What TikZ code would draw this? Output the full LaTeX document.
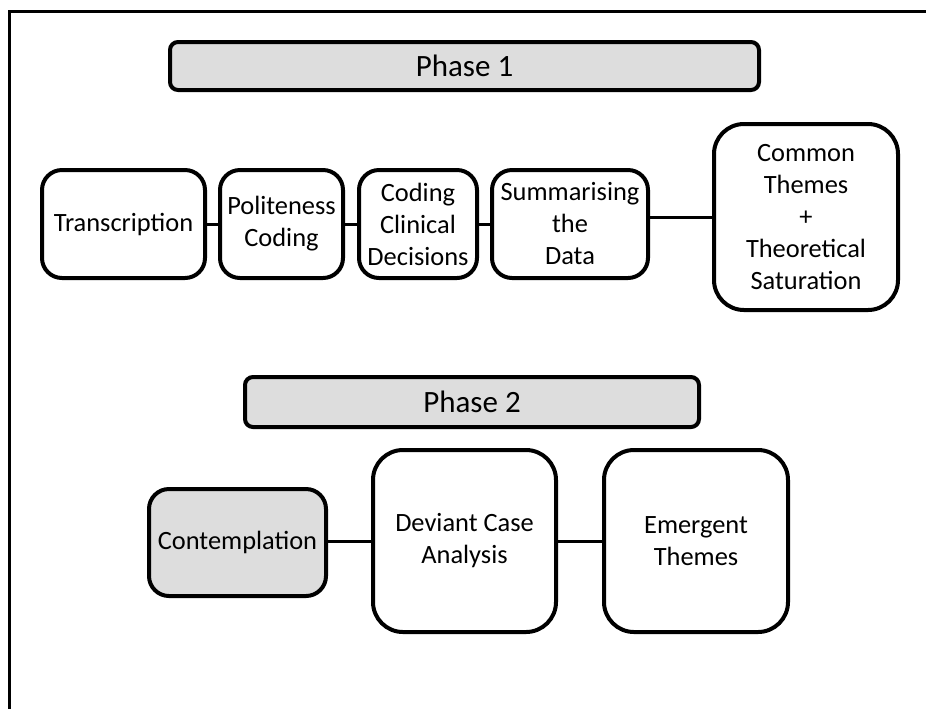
\documentclass[tikz,border=0pt]{standalone}
\usepackage{fontspec}
\setmainfont{Carlito}
\usepackage{tikz}
\usepackage{xcolor}
\definecolor{phasegray}{HTML}{DDDDDD}

\begin{document}
\begin{tikzpicture}[x=0.5pt, y=-0.5pt,
  stage/.style={draw=black, line width=2pt, rounded corners=10pt, align=center,
    inner xsep=1pt, font=\fontsize{13.2}{16}\selectfont},
  phase/.style={stage, fill=phasegray, rounded corners=4pt, font=\fontsize{15.5}{18}\selectfont},
  link/.style={line width=1.5pt}]
\useasboundingbox (0,0) rectangle (926,709);
\draw[line width=1.5pt] (926,11.5) -- (9.5,11.5) -- (9.5,709);

\node[phase, minimum width=294.5pt, minimum height=24pt] (phaseone) at (464.5,66) {Phase 1};
\node[stage, minimum width=81.5pt, minimum height=54pt] (trans) at (123.5,224) {Transcription};
\node[stage, minimum width=61.5pt, minimum height=54pt] (polite) at (281.5,224) {Politeness\\Coding};
\node[stage, minimum width=59pt, minimum height=54pt] (clinical) at (418,224) {Coding\\Clinical\\Decisions};
\node[stage, minimum width=78pt, minimum height=54pt] (summ) at (570,224) {Summarising\\the\\Data};
\node[stage, rounded corners=15pt, minimum width=92pt, minimum height=93pt] (common) at (806,217)
  {Common\\Themes\\+\\Theoretical\\Saturation};

\node[phase, minimum width=227pt, minimum height=25pt] (phasetwo) at (472,402) {Phase 2};
\node[stage, fill=phasegray, minimum width=88.5pt, minimum height=53.5pt] (contemp) at (237.5,542.5) {Contemplation};
\node[stage, rounded corners=15pt, minimum width=91.5pt, minimum height=91pt] (deviant) at (464.5,541) {Deviant Case\\Analysis};
\node[stage, rounded corners=15pt, minimum width=92pt, minimum height=91pt] (emerg) at (696,541) {Emergent\\Themes};

\draw[link] (trans) -- (polite);
\draw[link] (polite) -- (clinical);
\draw[link] (clinical) -- (summ);
\draw[link] (summ.east |- common.west) -- (common.west);
\draw[link] (contemp.east |- deviant.west) -- (deviant.west);
\draw[link] (deviant) -- (emerg);
\end{tikzpicture}
\end{document}
